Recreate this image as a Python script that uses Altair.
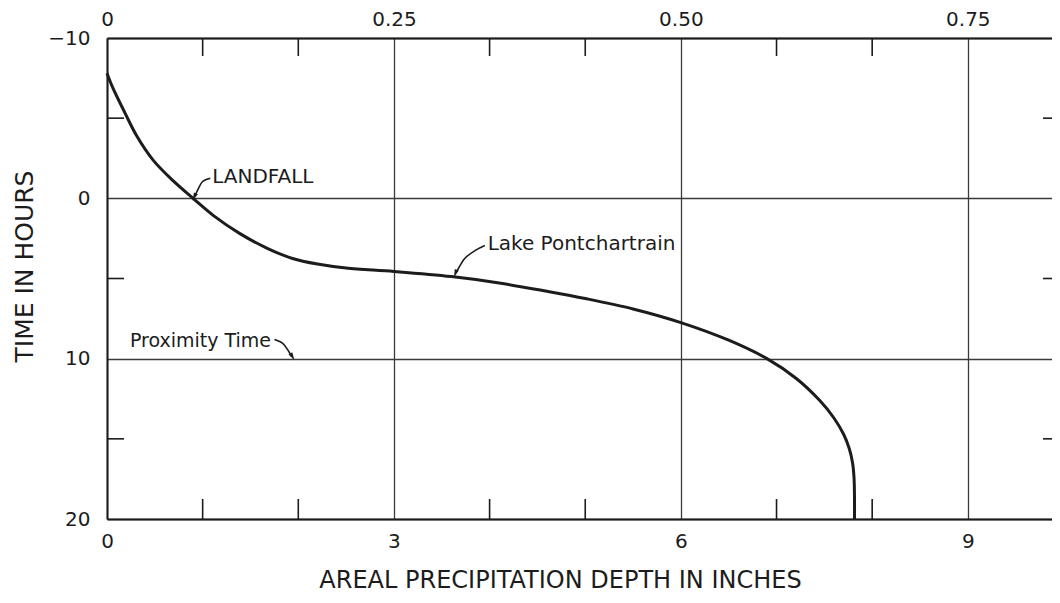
import altair as alt
import pandas as pd

# ---- data ----
depth_in = [0.0, 0.06, 0.19, 0.31, 0.48, 0.69, 0.90, 1.11, 1.39, 1.67, 1.94, 2.20, 2.50, 3.00,
            3.60, 4.10, 4.60, 5.00, 5.50, 6.00, 6.50, 6.90, 7.21, 7.45, 7.60, 7.70, 7.76, 7.795,
            7.81, 7.815, 7.815]
time_hr = [-7.8, -6.9, -5.3, -3.9, -2.4, -1.1, 0.0, 1.06, 2.2, 3.1, 3.75, 4.1, 4.35, 4.56,
           4.88, 5.28, 5.8, 6.25, 6.9, 7.75, 8.85, 10.0, 11.25, 12.6, 13.7, 14.7, 15.6, 16.5,
           17.4, 18.6, 20.0]

x_label_values = [0, 3, 6, 9]          # inches (bottom) -> feet (top) = inches / 12
x_minor_ticks = [1, 2, 4, 5, 7, 8]
y_label_values = [-10, 0, 10, 20]
y_minor_ticks = [-5, 5, 15]

ann_text = ["LANDFALL", "Lake Pontchartrain", "Proximity Time"]
ann_x = [1.10, 3.98, 0.24]
ann_y = [-1.30, 2.84, 8.88]
ann_size = [20, 20, 19]

arrow_id = [0, 0, 0, 0, 1, 1, 1, 1, 2, 2, 2, 2]
arrow_x = [1.08, 1.00, 0.95, 0.92, 3.95, 3.85, 3.74, 3.66, 1.75, 1.84, 1.90, 1.93]
arrow_y = [-1.25, -1.05, -0.55, -0.15, 2.94, 3.25, 3.75, 4.55, 8.81, 9.06, 9.55, 9.85]

head_x = [0.915, 3.645, 1.935]
head_y = [-0.12, 4.65, 9.85]
head_angle = [205, 200, 150]

# ---- frames ----
curve = pd.DataFrame({"depth": depth_in, "time": time_hr, "order": list(range(len(depth_in)))})
xticks = pd.DataFrame({"depth": x_minor_ticks})
yticks = pd.DataFrame({"time": y_minor_ticks})
ann = pd.DataFrame({"label": ann_text, "depth": ann_x, "time": ann_y, "fs": ann_size})
arrows = pd.DataFrame({"id": arrow_id, "depth": arrow_x, "time": arrow_y,
                       "order": list(range(len(arrow_x)))})
heads = pd.DataFrame({"depth": head_x, "time": head_y, "angle": head_angle})

W, H = 945, 481
FONT = "DejaVu Sans"
INK = "#1c1c1c"
GRID = "#3a3a3a"

xs = alt.Scale(domain=[0, 9.88], nice=False, zero=False)
ys = alt.Scale(domain=[-10, 20], nice=False, reverse=True)

main = alt.Chart(curve).mark_line(color=INK, strokeWidth=3, interpolate="catmull-rom").encode(
    x=alt.X("depth:Q", scale=xs, axis=alt.Axis(
        values=x_label_values, title="AREAL PRECIPITATION DEPTH IN INCHES",
        grid=True, gridColor=GRID, gridWidth=1.3, ticks=False,
        domainColor=INK, domainWidth=2, labelFlush=False, labelOverlap=False,
        labelFontSize=20, labelColor=INK, labelPadding=12,
        titleFontSize=24, titleFontWeight="normal", titleColor=INK,
        titleX=453, titleY=61, titleAlign="center", titleBaseline="middle")),
    y=alt.Y("time:Q", scale=ys, axis=alt.Axis(
        values=y_label_values, title="TIME IN HOURS",
        grid=True, gridColor=GRID, gridWidth=1.3, ticks=False,
        domainColor=INK, domainWidth=2, labelOverlap=False,
        labelFontSize=20, labelColor=INK, labelPadding=17,
        titleFontSize=25, titleFontWeight="normal", titleColor=INK,
        titleX=-83, titleY=228, titleAngle=270, titleAlign="center", titleBaseline="middle")),
    order="order:Q",
)

top_ticks = alt.Chart(xticks).mark_rule(color=INK, strokeWidth=1.6).encode(
    x=alt.X("depth:Q", scale=xs, axis=alt.Axis(
        orient="top", values=x_label_values, title=None, grid=False, ticks=False,
        domainColor=INK, domainWidth=2, labelFlush=False, labelOverlap=False,
        labelFontSize=20, labelColor=INK, labelPadding=9,
        labelExpr="datum.value == 0 ? '0' : format(datum.value / 12, '.2f')")),
    y=alt.value(0), y2=alt.value(18),
)

bottom_ticks = alt.Chart(xticks).mark_rule(color=INK, strokeWidth=1.6).encode(
    x=alt.X("depth:Q", scale=xs, axis=None),
    y=alt.value(H), y2=alt.value(H - 20),
)

left_ticks = alt.Chart(yticks).mark_rule(color=INK, strokeWidth=1.6).encode(
    y=alt.Y("time:Q", scale=ys, axis=None),
    x=alt.value(0), x2=alt.value(17),
)

right_ticks = alt.Chart(yticks).mark_rule(color=INK, strokeWidth=1.6).encode(
    y=alt.Y("time:Q", scale=ys, axis=None),
    x=alt.value(W - 9), x2=alt.value(W),
)

labels = alt.Chart(ann).mark_text(align="left", baseline="middle", color=INK, font=FONT).encode(
    x=alt.X("depth:Q", scale=xs, axis=None),
    y=alt.Y("time:Q", scale=ys, axis=None),
    text="label:N",
    size=alt.Size("fs:Q", scale=None, legend=None),
)

arrow_lines = alt.Chart(arrows).mark_line(color=INK, strokeWidth=1.6, interpolate="catmull-rom").encode(
    x=alt.X("depth:Q", scale=xs, axis=None),
    y=alt.Y("time:Q", scale=ys, axis=None),
    detail="id:N",
    order="order:Q",
)

arrow_heads = alt.Chart(heads).mark_point(
    shape="M0,-1L0.45,0.7L-0.45,0.7Z", filled=True, color=INK, opacity=1, size=90, strokeWidth=0
).encode(
    x=alt.X("depth:Q", scale=xs, axis=None),
    y=alt.Y("time:Q", scale=ys, axis=None),
    angle=alt.Angle("angle:Q", scale=None),
)

chart = alt.layer(
    main, top_ticks, bottom_ticks, left_ticks, right_ticks, arrow_lines, arrow_heads, labels
).resolve_axis(x="independent", y="independent").properties(
    width=W, height=H,
    autosize=alt.AutoSizeParams(type="none"),
    padding={"left": 99, "top": 30, "right": 0, "bottom": 76},
    background="white",
).configure_view(stroke=None).configure_axis(
    labelFont=FONT, titleFont=FONT
).configure_text(font=FONT)

chart.save("out.html", embed_options={"renderer": "svg", "actions": False})
